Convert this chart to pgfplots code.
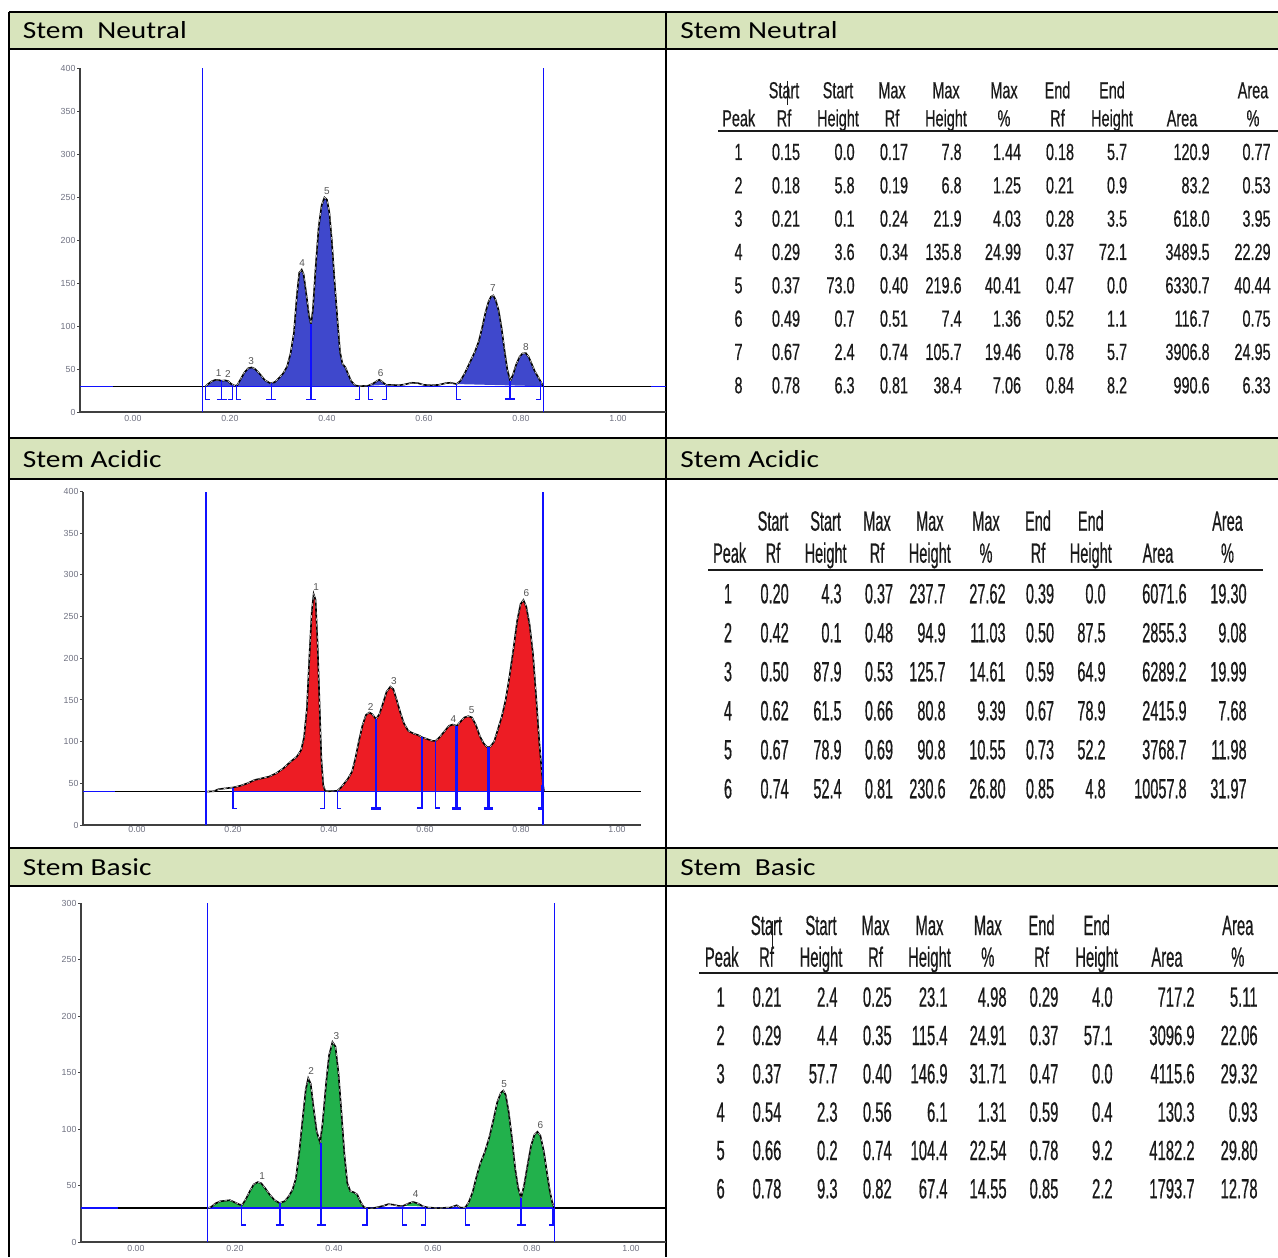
\documentclass[border=0pt]{standalone}
\usepackage{pgfplots}
\usepackage{pgfplotstable}
\pgfplotsset{compat=1.18}
\usepackage{fontspec}
\setmainfont{Liberation Sans}
\newfontfamily\hdrfont[FakeStretch=1.2]{Carlito}
\newfontfamily\tabAfont[FakeStretch=0.62, FakeBold=0.5]{Liberation Sans}
\newfontfamily\tabBfont[FakeStretch=0.52, FakeBold=0.5]{Liberation Sans}
\newfontfamily\tabCfont[FakeStretch=0.53, FakeBold=0.5]{Liberation Sans}
\newfontfamily\tickfont{Liberation Sans}

\definecolor{hdr}{HTML}{D8E4BC}
\definecolor{nblue}{HTML}{3F48CC}
\definecolor{ared}{HTML}{ED1C24}
\definecolor{bgreen}{HTML}{22B14C}
\definecolor{lblue}{HTML}{1010FF}
\definecolor{axgray}{HTML}{404040}
\definecolor{ticktxt}{HTML}{6E7080}
\definecolor{tabtxt}{HTML}{1A1A1A}
\definecolor{pklab}{HTML}{555555}

% ---------------- curve data ----------------
\pgfplotstableread{
x y
0.150 30.0
0.155 32.5
0.162 35.5
0.170 37.3
0.178 37.0
0.183 36.2
0.190 36.8
0.196 36.0
0.203 32.5
0.210 30.5
0.215 31.0
0.222 38
0.230 46
0.238 51
0.245 51.8
0.252 50
0.262 44
0.272 37
0.283 33.5
0.292 34.5
0.302 40
0.310 45
0.318 53
0.325 68
0.332 92
0.338 135
0.343 162
0.348 165.5
0.352 160
0.358 135
0.363 112
0.367 102
0.371 118
0.377 170
0.383 215
0.389 240
0.395 249.5
0.400 247
0.405 232
0.410 200
0.416 150
0.422 105
0.427 70
0.432 56
0.438 52
0.443 45
0.450 36
0.458 31
0.467 30
0.485 30.5
0.495 33
0.503 36
0.508 37.5
0.514 35
0.522 31.5
0.535 31.5
0.548 31
0.560 32
0.575 34
0.588 33.5
0.600 31.5
0.615 31
0.630 31.5
0.645 33.5
0.655 34
0.667 32.5
0.675 36
0.685 46
0.695 58
0.705 70
0.713 82
0.720 98
0.727 116
0.733 128
0.738 134
0.743 135.5
0.748 130
0.754 118
0.760 98
0.766 72
0.772 49
0.778 36
0.784 44
0.790 55
0.797 64
0.803 68
0.810 68.5
0.816 64
0.822 56
0.828 48
0.834 42
0.840 36
0.846 30
}\neutral

\pgfplotstableread{
x y
0.144 40
0.160 40.5
0.170 43
0.185 44
0.200 45
0.215 47
0.230 50
0.245 54
0.260 56
0.275 58
0.290 62
0.305 68
0.320 76
0.333 82
0.342 90
0.348 105
0.354 140
0.359 200
0.364 255
0.368 277
0.372 270
0.376 220
0.380 150
0.384 80
0.388 48
0.392 41
0.400 40.5
0.410 41
0.417 41
0.425 45
0.432 50
0.440 56
0.448 64
0.455 80
0.462 100
0.470 120
0.477 132
0.484 135
0.490 133
0.498 127
0.505 133
0.512 145
0.520 160
0.528 166
0.534 163
0.541 150
0.548 136
0.556 122
0.565 113
0.575 110
0.585 108
0.595 105
0.605 103
0.615 101
0.622 101
0.630 105
0.640 112
0.650 119
0.658 120.5
0.666 119
0.674 124
0.682 129
0.690 130.5
0.698 129
0.706 120
0.714 107
0.722 98
0.730 93
0.736 94
0.744 100
0.752 115
0.760 130
0.768 150
0.776 178
0.784 210
0.792 245
0.799 265
0.805 270
0.811 262
0.818 240
0.825 205
0.832 150
0.838 100
0.843 66
0.846 48
0.848 40
}\acidic

% fill outline of acidic peak 1 (same points, closed on the baseline)
\pgfplotstableread{
x y
0.200 40
0.200 45
0.215 47
0.230 50
0.245 54
0.260 56
0.275 58
0.290 62
0.305 68
0.320 76
0.333 82
0.342 90
0.348 105
0.354 140
0.359 200
0.364 255
0.368 277
0.372 270
0.376 220
0.380 150
0.384 80
0.388 48
0.392 41
0.392 40
}\acidicpk

\pgfplotstableread{
x y
0.145 30
0.152 31
0.160 34
0.170 36
0.180 36.5
0.190 37
0.200 35
0.210 33
0.215 33
0.222 38
0.230 45
0.238 51
0.246 53
0.253 52
0.262 47
0.270 42
0.280 37
0.290 34.5
0.300 36
0.308 40
0.316 46
0.323 56
0.330 80
0.337 110
0.343 135
0.348 145
0.353 140
0.359 118
0.365 98
0.372 88
0.377 105
0.384 140
0.390 165
0.397 177
0.403 173
0.409 150
0.415 115
0.421 78
0.427 52
0.433 45
0.440 44
0.447 42
0.453 36
0.460 31
0.466 30
0.480 30
0.490 31
0.500 32
0.510 33.5
0.520 33
0.530 32
0.540 32
0.550 34
0.560 35.5
0.570 34
0.580 31.5
0.590 30.5
0.610 30
0.635 30.5
0.648 32.5
0.655 30.5
0.665 30.5
0.672 35
0.680 44
0.688 58
0.696 70
0.705 80
0.714 93
0.722 108
0.730 124
0.737 132
0.742 134
0.747 130
0.753 115
0.760 90
0.766 65
0.772 48
0.778 39
0.784 50
0.791 68
0.798 85
0.805 95
0.811 97.5
0.817 94
0.824 80
0.830 62
0.836 45
0.841 35
0.845 30
}\basic

\pgfplotsset{chrom/.style={
  scale only axis, anchor=south west, clip=false,
  enlargelimits=false, ymin=0,
  axis x line*=bottom, axis y line*=left,
  axis line style={draw=axgray, line width=0.7pt},
  xtick={0,0.2,0.4,0.6,0.8,1},
  xtick style={draw=none},
  ytick style={draw=axgray, line width=0.5pt},
  major tick length=1.5pt, tick align=outside,
  /pgf/number format/assume math mode=true,
  ticklabel style={font=\tickfont\fontsize{4.4}{5}\selectfont, text=ticktxt},
  x tick label style={/pgf/number format/.cd, fixed, fixed zerofill, precision=2, /tikz/.cd, yshift=3.5pt},
  y tick label style={inner sep=0.6pt},
  unbounded coords=jump,
  nodes near coords style={font=\tickfont\fontsize{5}{6}\selectfont, text=pklab, anchor=center, inner sep=0pt},
}, pkfill/.style={draw=none, fill=#1, unbounded coords=discard, forget plot}}
\tikzset{outl/.style={black, line width=0.8pt},
         outd/.style={white!65!gray, line width=0.3pt, dash pattern=on 1.5pt off 1.5pt}}

\begin{document}
\begin{tikzpicture}
\path[use as bounding box] (0,0) rectangle (639pt,-628.5pt);
\begin{scope}[x=0.5pt,y=-0.5pt]
  % header fills
  \fill[hdr] (9,12) rectangle (1278,49);
  \fill[hdr] (9,438) rectangle (1278,479);
  \fill[hdr] (9,848) rectangle (1278,886);
  % grid
  \begin{scope}[line width=1pt, black]
    \foreach \yy in {12,49,438,479,848,886} {\draw (9,\yy) -- (1278,\yy);}
    \draw (9,12) -- (9,1257);
    \draw (666,12) -- (666,1257);
  \end{scope}
  % header texts
  \begin{scope}[every node/.style={inner sep=0pt, anchor=base west, font=\hdrfont\fontsize{12.25}{14}\selectfont}]
    \node at (22.5,38.5) {Stem\ \ Neutral};
    \node at (680,38.5) {Stem Neutral};
    \node at (22.5,467) {Stem Acidic};
    \node at (680,467) {Stem Acidic};
    \node at (22.5,875.5) {Stem Basic};
    \node at (680,875.5) {Stem\ \ Basic};
  \end{scope}
  % ---------- table 1 ----------
  \begin{scope}[every node/.style={inner sep=0pt, text=tabtxt, font=\tabAfont\fontsize{11.65}{12}\selectfont}]
    \foreach \xx/\aa/\bb in {784/Start/Rf, 838/Start/Height, 892/Max/Rf, 946/Max/Height, 1004/Max/\%, 1057.5/End/Rf, 1112/End/Height, 1253/Area/\%}
      {\node[anchor=base] at (\xx,98.3) {\aa}; \node[anchor=base] at (\xx,126.3) {\bb};}
    \node[anchor=base] at (738.7,126.3) {Peak};
    \node[anchor=base] at (1182,126.3) {Area};
    \draw[tabtxt, line width=1.1pt] (718,131) -- (1278,131);
    \draw[tabtxt, line width=0.4pt] (787.5,81) -- (787.5,105);
    \foreach \va/\vb/\vc/\vd/\ve/\vf/\vg/\vh/\vi/\vj in {
      1/0.15/0.0/0.17/7.8/1.44/0.18/5.7/120.9/0.77,
      2/0.18/5.8/0.19/6.8/1.25/0.21/0.9/83.2/0.53,
      3/0.21/0.1/0.24/21.9/4.03/0.28/3.5/618.0/3.95,
      4/0.29/3.6/0.34/135.8/24.99/0.37/72.1/3489.5/22.29,
      5/0.37/73.0/0.40/219.6/40.41/0.47/0.0/6330.7/40.44,
      6/0.49/0.7/0.51/7.4/1.36/0.52/1.1/116.7/0.75,
      7/0.67/2.4/0.74/105.7/19.46/0.78/5.7/3906.8/24.95,
      8/0.78/6.3/0.81/38.4/7.06/0.84/8.2/990.6/6.33}{
      \pgfmathsetmacro\yy{160+33.33*(\va-1)}
      \node[anchor=base] at (738.5,\yy) {\va};
      \node[anchor=base] at (786,\yy) {\vb};
      \node[anchor=base east] at (855,\yy) {\vc};
      \node[anchor=base] at (894,\yy) {\vd};
      \node[anchor=base east] at (962,\yy) {\ve};
      \node[anchor=base east] at (1021.5,\yy) {\vf};
      \node[anchor=base] at (1060,\yy) {\vg};
      \node[anchor=base east] at (1127.5,\yy) {\vh};
      \node[anchor=base east] at (1210,\yy) {\vi};
      \node[anchor=base east] at (1271,\yy) {\vj};
    }
  \end{scope}
  % ---------- table 2 ----------
  \begin{scope}[every node/.style={inner sep=0pt, text=tabtxt, font=\tabBfont\fontsize{13.95}{15}\selectfont}]
    \foreach \xx/\aa/\bb in {773/Start/Rf, 825.6/Start/Height, 877/Max/Rf, 929.8/Max/Height, 986/Max/\%, 1038/End/Rf, 1090.8/End/Height, 1227.5/Area/\%}
      {\node[anchor=base] at (\xx,530.7) {\aa}; \node[anchor=base] at (\xx,562.7) {\bb};}
    \node[anchor=base] at (729.6,562.7) {Peak};
    \node[anchor=base] at (1158,562.7) {Area};
    \draw[tabtxt, line width=1.1pt] (708,570) -- (1263,570);
    \foreach \va/\vb/\vc/\vd/\ve/\vf/\vg/\vh/\vi/\vj in {
      1/0.20/4.3/0.37/237.7/27.62/0.39/0.0/6071.6/19.30,
      2/0.42/0.1/0.48/94.9/11.03/0.50/87.5/2855.3/9.08,
      3/0.50/87.9/0.53/125.7/14.61/0.59/64.9/6289.2/19.99,
      4/0.62/61.5/0.66/80.8/9.39/0.67/78.9/2415.9/7.68,
      5/0.67/78.9/0.69/90.8/10.55/0.73/52.2/3768.7/11.98,
      6/0.74/52.4/0.81/230.6/26.80/0.85/4.8/10057.8/31.97}{
      \pgfmathsetmacro\yy{603.3+39*(\va-1)}
      \node[anchor=base] at (728,\yy) {\va};
      \node[anchor=base] at (774.6,\yy) {\vb};
      \node[anchor=base east] at (842,\yy) {\vc};
      \node[anchor=base] at (879,\yy) {\vd};
      \node[anchor=base east] at (946,\yy) {\ve};
      \node[anchor=base east] at (1006,\yy) {\vf};
      \node[anchor=base] at (1040,\yy) {\vg};
      \node[anchor=base east] at (1106,\yy) {\vh};
      \node[anchor=base east] at (1187,\yy) {\vi};
      \node[anchor=base east] at (1247,\yy) {\vj};
    }
  \end{scope}
  % ---------- table 3 ----------
  \begin{scope}[every node/.style={inner sep=0pt, text=tabtxt, font=\tabCfont\fontsize{13.95}{15}\selectfont}]
    \foreach \xx/\aa/\bb in {766.5/Start/Rf, 821/Start/Height, 875.5/Max/Rf, 929.5/Max/Height, 987.8/Max/\%, 1041.5/End/Rf, 1096.7/End/Height, 1237.8/Area/\%}
      {\node[anchor=base] at (\xx,935) {\aa}; \node[anchor=base] at (\xx,966.7) {\bb};}
    \node[anchor=base] at (721.7,966.7) {Peak};
    \node[anchor=base] at (1167,966.7) {Area};
    \draw[tabtxt, line width=1.1pt] (699,973.3) -- (1278,973.3);
    \draw[tabtxt, line width=0.4pt] (772,921) -- (772,947);
    \foreach \va/\vb/\vc/\vd/\ve/\vf/\vg/\vh/\vi/\vj in {
      1/0.21/2.4/0.25/23.1/4.98/0.29/4.0/717.2/5.11,
      2/0.29/4.4/0.35/115.4/24.91/0.37/57.1/3096.9/22.06,
      3/0.37/57.7/0.40/146.9/31.71/0.47/0.0/4115.6/29.32,
      4/0.54/2.3/0.56/6.1/1.31/0.59/0.4/130.3/0.93,
      5/0.66/0.2/0.74/104.4/22.54/0.78/9.2/4182.2/29.80,
      6/0.78/9.3/0.82/67.4/14.55/0.85/2.2/1793.7/12.78}{
      \pgfmathsetmacro\yy{1006.7+38.33*(\va-1)}
      \node[anchor=base] at (720.6,\yy) {\va};
      \node[anchor=base] at (767,\yy) {\vb};
      \node[anchor=base east] at (838,\yy) {\vc};
      \node[anchor=base] at (877.3,\yy) {\vd};
      \node[anchor=base east] at (948,\yy) {\ve};
      \node[anchor=base east] at (1007,\yy) {\vf};
      \node[anchor=base] at (1044,\yy) {\vg};
      \node[anchor=base east] at (1113,\yy) {\vh};
      \node[anchor=base east] at (1195,\yy) {\vi};
      \node[anchor=base east] at (1258,\yy) {\vj};
    }
  \end{scope}
\end{scope}

% ================= chart 1: neutral =================
\begin{axis}[chrom, at={(40pt,-206pt)}, width=293pt, height=172pt,
  xmin=-0.109, xmax=1.099, ymax=400, ytick={0,50,...,400}]
  \addplot[pkfill=nblue, restrict x to domain=0.1495:0.4675] table {\neutral} -- cycle;
  \addplot[pkfill=nblue, restrict x to domain=0.4845:0.5225] table {\neutral} -- cycle;
  \addplot[pkfill=nblue, restrict x to domain=0.6665:0.8465] table {\neutral} -- cycle;
  \addplot[lblue, line width=0.7pt] coordinates {(-0.109,30) (-0.042,30)};
  \addplot[black, line width=0.7pt] coordinates {(-0.042,30) (1.099,30)};
  \addplot[lblue, line width=0.7pt] coordinates {(0.15,30) (0.846,30)};
  \addplot[lblue, line width=0.7pt] coordinates {(1.068,30) (1.099,30)};
  \addplot[outl] table {\neutral};
  \addplot[outd] table {\neutral};
  \addplot[lblue, line width=0.7pt] coordinates {(0.144,0) (0.144,400)};
  \addplot[lblue, line width=0.7pt] coordinates {(0.847,0) (0.847,400)};
  \addplot[lblue, line width=0.6pt] coordinates {
    (0.150,30)(0.150,15)(0.159,15) (nan,nan)
    (0.183,37)(0.183,15) (nan,nan) (0.173,15)(0.193,15) (nan,nan)
    (0.205,31)(0.205,15)(0.196,15) (nan,nan)
    (0.214,31)(0.214,15)(0.223,15) (nan,nan)
    (0.285,34)(0.285,15) (nan,nan) (0.275,15)(0.295,15) (nan,nan)
    (0.367,102)(0.367,15) (nan,nan) (0.357,15)(0.377,15) (nan,nan)
    (0.467,30)(0.467,15)(0.458,15) (nan,nan)
    (0.485,30.5)(0.485,15)(0.494,15) (nan,nan)
    (0.522,31.5)(0.522,15)(0.513,15) (nan,nan)
    (0.667,32.5)(0.667,15)(0.676,15) (nan,nan)
    (0.840,36)(0.840,15)(0.831,15)};
  \addplot[lblue, line width=1.1pt] coordinates {(0.778,36)(0.778,15) (nan,nan) (0.768,15)(0.788,15)};
  \addplot[draw=none, mark=none, nodes near coords, point meta=explicit symbolic] coordinates {
    (0.177,45)[1] (0.196,44.6)[2] (0.244,59)[3] (0.349,173)[4] (0.400,257)[5] (0.511,45)[6] (0.742,144)[7] (0.810,76)[8]};
\end{axis}

% ================= chart 2: acidic =================
\begin{axis}[chrom, at={(41.5pt,-412.5pt)}, width=279pt, height=166.7pt,
  xmin=-0.1125, xmax=1.05, ymax=400, ytick={0,50,...,400},
  x tick label style={yshift=1pt}]
  \addplot[pkfill=ared] table {\acidicpk} -- cycle;
  \addplot[pkfill=ared, restrict x to domain=0.4165:0.8485] table {\acidic} -- cycle;
  \addplot[lblue, line width=0.7pt] coordinates {(-0.1125,40) (-0.045,40)};
  \addplot[black, line width=0.7pt] coordinates {(-0.045,40) (1.05,40)};
  \addplot[lblue, line width=0.7pt] coordinates {(0.2,40) (0.846,40)};
  \addplot[outl] table {\acidic};
  \addplot[outd] table {\acidic};
  \addplot[lblue, line width=0.7pt] coordinates {(0.144,0) (0.144,400)};
  \addplot[lblue, line width=0.7pt] coordinates {(0.846,0) (0.846,400)};
  \addplot[lblue, line width=0.6pt] coordinates {
    (0.200,45)(0.200,20)(0.209,20) (nan,nan)
    (0.391,41)(0.391,20)(0.382,20) (nan,nan)
    (0.417,41)(0.417,20)(0.426,20)};
  \addplot[lblue, line width=0.9pt] coordinates {
    (0.593,106)(0.593,20)(0.584,20) (nan,nan)
    (0.622,101)(0.622,20)(0.631,20)};
  \addplot[lblue, line width=1.3pt] coordinates {
    (0.498,127)(0.498,20) (nan,nan) (0.488,20)(0.508,20) (nan,nan)
    (0.666,119)(0.666,20) (nan,nan) (0.656,20)(0.676,20) (nan,nan)
    (0.732,93)(0.732,20) (nan,nan) (0.722,20)(0.742,20) (nan,nan)
    (0.845,48)(0.845,20)(0.836,20)};
  \addplot[draw=none, mark=none, nodes near coords, point meta=explicit symbolic] coordinates {
    (0.373,285)[1] (0.487,142)[2] (0.535,173)[3] (0.659,127)[4] (0.697,138)[5] (0.811,278)[6]};
\end{axis}

% ================= chart 3: basic =================
\begin{axis}[chrom, at={(40.5pt,-621pt)}, width=292.5pt, height=169.5pt,
  xmin=-0.111, xmax=1.0707, ymax=300, ytick={0,50,...,300}]
  \addplot[pkfill=bgreen, restrict x to domain=0.1445:0.4665] table {\basic} -- cycle;
  \addplot[pkfill=bgreen, restrict x to domain=0.5395:0.5855] table {\basic} -- cycle;
  \addplot[pkfill=bgreen, restrict x to domain=0.6645:0.8455] table {\basic} -- cycle;
  \addplot[lblue, line width=0.7pt] coordinates {(-0.111,30) (-0.037,30)};
  \addplot[black, line width=0.7pt] coordinates {(-0.037,30) (1.0707,30)};
  \addplot[lblue, line width=0.7pt] coordinates {(0.145,30) (0.845,30)};
  \addplot[outl] table {\basic};
  \addplot[outd] table {\basic};
  \addplot[lblue, line width=0.7pt] coordinates {(0.1445,0) (0.1445,300)};
  \addplot[lblue, line width=0.7pt] coordinates {(0.846,0) (0.846,300)};
  \addplot[lblue, line width=0.6pt] coordinates {
    (0.213,33)(0.213,15)(0.222,15) (nan,nan)
    (0.539,32)(0.539,15)(0.548,15) (nan,nan)
    (0.585,31)(0.585,15)(0.576,15) (nan,nan)
    (0.665,30.5)(0.665,15)(0.674,15)};
  \addplot[lblue, line width=0.9pt] coordinates {
    (0.466,30)(0.466,15)(0.457,15)};
  \addplot[lblue, line width=1.3pt] coordinates {
    (0.291,34.5)(0.291,15) (nan,nan) (0.282,15)(0.300,15) (nan,nan)
    (0.374,88)(0.374,15) (nan,nan) (0.365,15)(0.383,15) (nan,nan)
    (0.778,39)(0.778,15) (nan,nan) (0.769,15)(0.787,15) (nan,nan)
    (0.843,30)(0.843,15)(0.834,15)};
  \addplot[draw=none, mark=none, nodes near coords, point meta=explicit symbolic] coordinates {
    (0.255,58.5)[1] (0.354,151.5)[2] (0.405,182.5)[3] (0.565,42.2)[4] (0.744,139.7)[5] (0.817,103.3)[6]};
\end{axis}
\end{tikzpicture}
\end{document}
